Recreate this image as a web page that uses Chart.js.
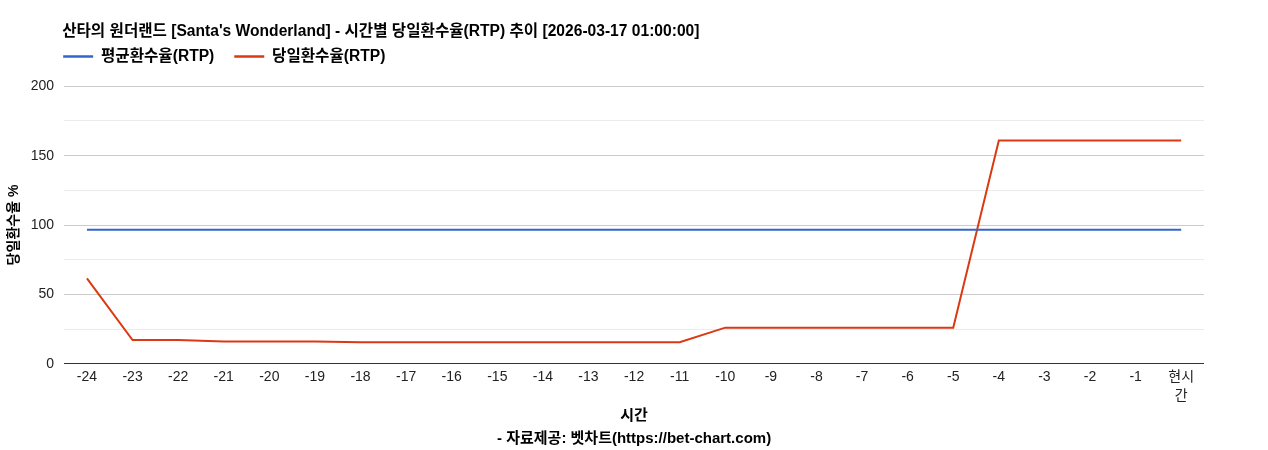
<!DOCTYPE html>
<html>
<head>
<meta charset="utf-8">
<script src="https://cdn.jsdelivr.net/npm/chart.js@4/dist/chart.umd.min.js"></script>
<style>
html,body{margin:0;padding:0;background:#fff;}
#wrap{width:1268px;height:450px;position:relative;}
</style>
</head>
<body>
<div id="wrap"><canvas id="c"></canvas></div>
<script>
const titleText = "산타의 원더랜드 [Santa's Wonderland] - 시간별 당일환수율(RTP) 추이 [2026-03-17 01:00:00]";
const categories = ['-24','-23','-22','-21','-20','-19','-18','-17','-16','-15','-14','-13','-12','-11','-10','-9','-8','-7','-6','-5','-4','-3','-2','-1',['현시','간']];
const avgLabel = '평균환수율(RTP)';
const dailyLabel = '당일환수율(RTP)';
const avgValues = [96.5,96.5,96.5,96.5,96.5,96.5,96.5,96.5,96.5,96.5,96.5,96.5,96.5,96.5,96.5,96.5,96.5,96.5,96.5,96.5,96.5,96.5,96.5,96.5,96.5];
const dailyValues = [61.5,17,17,16,16,16,15.5,15.5,15.5,15.5,15.5,15.5,15.5,15.5,26,26,26,26,26,26,161,161,161,161,161];
const yTickValues = [0,50,100,150,200];
const yAxisTitle = '당일환수율 %';
const xAxisTitle = ['시간','- 자료제공: 벳차트(https://bet-chart.com)'];

const FONT = "Arial, 'Liberation Sans', 'Noto Sans CJK KR', sans-serif";
Chart.defaults.font.family = FONT;
Chart.defaults.color = '#222';

const LEGEND_PAD = 20;
const alignHeader = {
  id: 'alignHeader',
  afterLayout(chart) {
    const L = chart.chartArea.left - 1;
    if (chart.titleBlock) chart.titleBlock.left = L - 1;
    if (chart.legend) { chart.legend.left = L - LEGEND_PAD; chart.legend.top -= 12; }
  }
};

new Chart(document.getElementById('c'), {
  type: 'line',
  data: {
    labels: categories,
    datasets: [
      {label: avgLabel, data: avgValues, borderColor: '#3366cc', backgroundColor: '#3366cc', borderWidth: 2, pointRadius: 0, tension: 0},
      {label: dailyLabel, data: dailyValues, borderColor: '#dc3912', backgroundColor: '#dc3912', borderWidth: 2, pointRadius: 0, tension: 0}
    ]
  },
  plugins: [alignHeader],
  options: {
    responsive: true,
    maintainAspectRatio: false,
    animation: false,
    layout: {padding: {left: 6, right: 64, top: 22, bottom: 1}},
    plugins: {
      tooltip: {enabled: false},
      title: {
        display: true, text: titleText, align: 'start',
        font: {size: 15.6, weight: 'bold'}, color: '#000',
        padding: {top: 0, bottom: 0}
      },
      legend: {
        display: true, align: 'start',
        labels: {
          usePointStyle: true, pointStyle: 'line', pointStyleWidth: 30,
          boxHeight: 14,
          font: {size: 15.6, weight: 'bold'}, color: '#000', padding: LEGEND_PAD,
          generateLabels(chart) {
            return chart.data.datasets.map((ds, i) => ({
              text: ds.label, strokeStyle: ds.borderColor, fillStyle: ds.borderColor,
              lineWidth: 2.5, pointStyle: 'line', datasetIndex: i, hidden: false, fontColor: '#000'
            }));
          }
        }
      }
    },
    scales: {
      x: {
        offset: true,
        grid: {display: false, drawTicks: false},
        border: {display: false},
        ticks: {font: {size: 14, lineHeight: 1.35}, color: '#222', maxRotation: 0, autoSkip: false, padding: 4},
        title: {display: true, text: xAxisTitle, font: {size: 15, weight: 'bold', lineHeight: 1.5}, color: '#000', padding: {top: -4.5, bottom: -1}}
      },
      y: {
        min: 0, max: 200,
        afterBuildTicks(axis) {
          const t = [];
          for (let i = 0; i < yTickValues.length; i++) {
            t.push({value: yTickValues[i]});
            if (i < yTickValues.length - 1) t.push({value: (yTickValues[i] + yTickValues[i+1]) / 2});
          }
          axis.ticks = t;
        },
        grid: {
          drawTicks: false,
          color: ctx => ctx.tick && ctx.tick.value === 0 ? '#333' : (yTickValues.includes(ctx.tick && ctx.tick.value) ? '#cccccc' : '#ebebeb'),
          lineWidth: 1
        },
        border: {display: false},
        ticks: {
          font: {size: 14}, color: '#222', padding: 10,
          callback: v => yTickValues.includes(v) ? String(v) : ''
        },
        title: {display: true, text: yAxisTitle, font: {size: 14, weight: 'bold'}, color: '#000', padding: {top: 0, bottom: -2}}
      }
    }
  }
});
</script>
</body>
</html>
